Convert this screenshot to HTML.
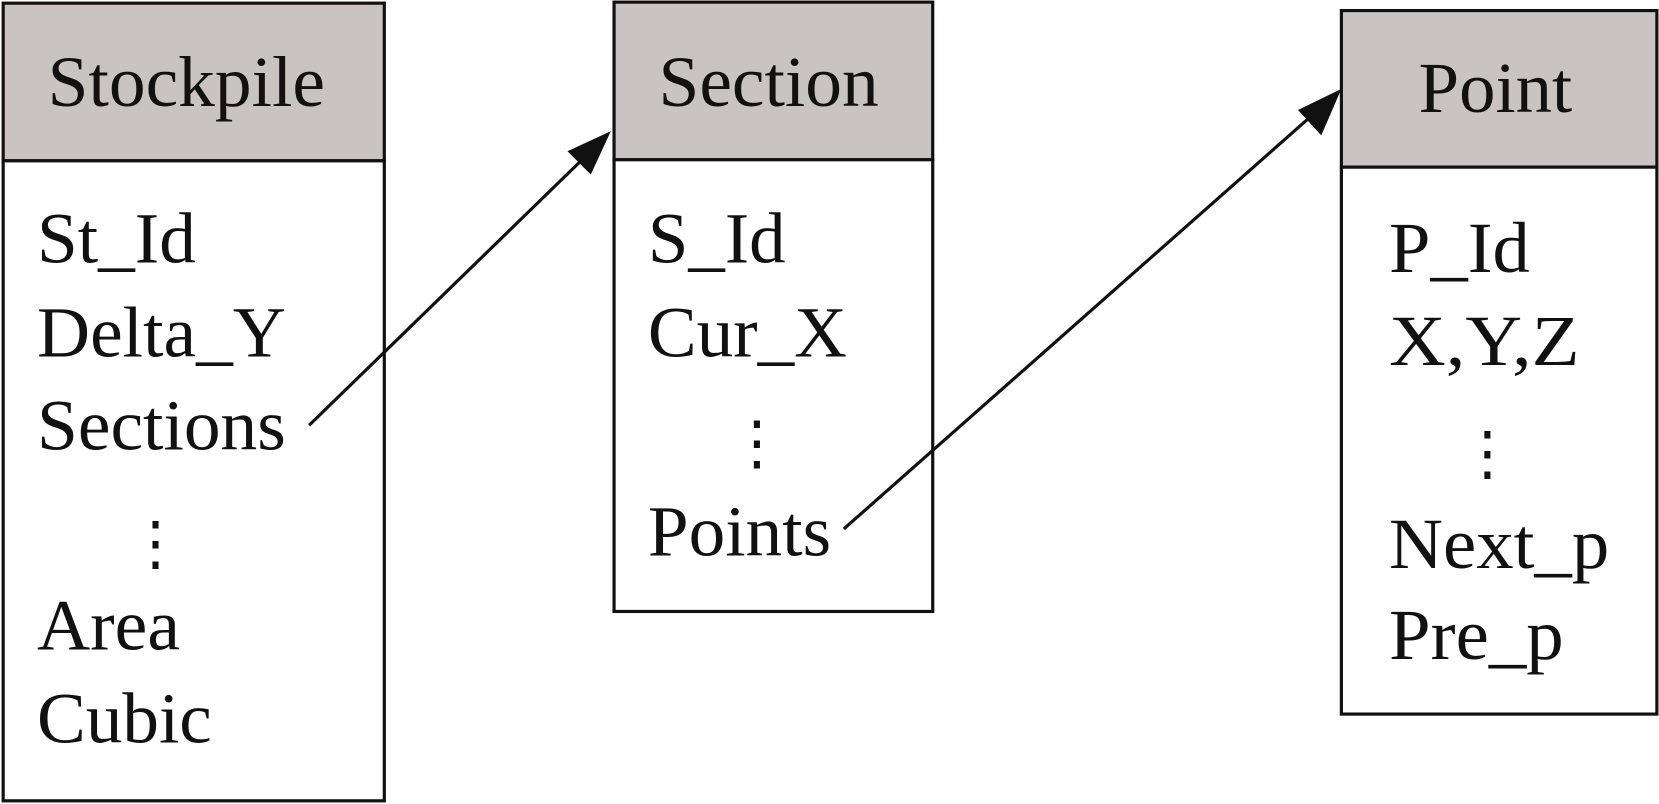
<!DOCTYPE html>
<html><head><style>html,body{margin:0;padding:0;background:#fff}svg{display:block}</style></head><body>
<svg width="1659" height="804" viewBox="0 0 1567 760" preserveAspectRatio="none" xmlns="http://www.w3.org/2000/svg" font-family="'Liberation Serif', serif" font-size="68" fill="#111">
<g stroke="#111" stroke-width="3">
<rect x="3" y="3" width="360" height="149" fill="#c9c4c1"/>
<rect x="3" y="152" width="360" height="605" fill="#fff"/>
<rect x="580" y="2" width="301" height="149" fill="#c9c4c1"/>
<rect x="580" y="151" width="301" height="427" fill="#fff"/>
<rect x="1267" y="10" width="298" height="148" fill="#c9c4c1"/>
<rect x="1267" y="158" width="298" height="517" fill="#fff"/>
</g>
<g stroke="#111" stroke-width="3" fill="none">
<line x1="292" y1="402" x2="556" y2="145"/>
<line x1="797" y1="500" x2="1245" y2="104"/>
</g>
<path d="M577,124 L536,143 L558,165 z" fill="#111"/>
<path d="M1267,84 L1226,104 L1248,128 z" fill="#111"/>
<text x="45" y="100" textLength="262" lengthAdjust="spacingAndGlyphs">Stockpile</text>
<text x="35" y="248" textLength="150" lengthAdjust="spacingAndGlyphs">St_Id</text>
<text x="35" y="337" textLength="235" lengthAdjust="spacingAndGlyphs">Delta_Y</text>
<text x="35" y="425" textLength="235" lengthAdjust="spacingAndGlyphs">Sections</text>
<text x="119" y="532" font-size="56">⋮</text>
<text x="35" y="614" textLength="135" lengthAdjust="spacingAndGlyphs">Area</text>
<text x="35" y="702" textLength="165" lengthAdjust="spacingAndGlyphs">Cubic</text>
<text x="622" y="100" textLength="208" lengthAdjust="spacingAndGlyphs">Section</text>
<text x="612" y="248" textLength="130" lengthAdjust="spacingAndGlyphs">S_Id</text>
<text x="612" y="337" textLength="188" lengthAdjust="spacingAndGlyphs">Cur_X</text>
<text x="687" y="437" font-size="56">⋮</text>
<text x="612" y="525" textLength="173" lengthAdjust="spacingAndGlyphs">Points</text>
<text x="1340" y="106" textLength="145" lengthAdjust="spacingAndGlyphs">Point</text>
<text x="1312" y="257" textLength="133" lengthAdjust="spacingAndGlyphs">P_Id</text>
<text x="1312" y="345" textLength="180" lengthAdjust="spacingAndGlyphs">X,Y,Z</text>
<text x="1377" y="447" font-size="56">⋮</text>
<text x="1312" y="537" textLength="208" lengthAdjust="spacingAndGlyphs">Next_p</text>
<text x="1312" y="623" textLength="165" lengthAdjust="spacingAndGlyphs">Pre_p</text>
</svg>
</body></html>
